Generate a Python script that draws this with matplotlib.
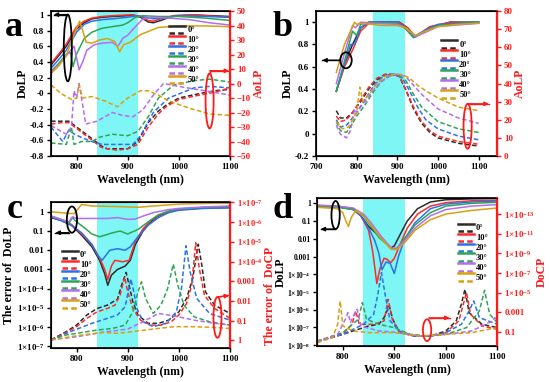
import numpy as np
import matplotlib.pyplot as plt
from matplotlib.lines import Line2D
from matplotlib.patches import Ellipse
from matplotlib.legend_handler import HandlerBase
from matplotlib.ticker import FixedLocator, FixedFormatter, NullLocator

plt.rcParams['font.family'] = ['Liberation Serif', 'DejaVu Serif']
plt.rcParams['font.weight'] = 'bold'
plt.rcParams['mathtext.fontset'] = 'custom'
plt.rcParams['mathtext.rm'] = 'Liberation Serif:bold'
plt.rcParams['mathtext.bf'] = 'Liberation Serif:bold'
plt.rcParams['mathtext.it'] = 'Liberation Serif:bold'

angles = ['0°', '10°', '20°', '30°', '40°', '50°']
colors = ['#2b2b2b', '#ff2a2a', '#2a72ea', '#2ea555', '#b46cf0', '#d9a010']

# ---- panel a: DoLP (solid) / AoLP in deg (dashed)
a_dolp_x = [
    [750, 765, 780, 800, 815, 830, 850, 870, 900, 910, 925, 940, 950, 965, 990, 1030, 1100],
    [750, 765, 780, 800, 815, 830, 850, 870, 900, 910, 925, 940, 950, 965, 990, 1030, 1100],
    [750, 765, 780, 800, 815, 830, 850, 870, 900, 920, 935, 950, 970, 1000, 1100],
    [750, 765, 780, 788, 793, 800, 815, 830, 850, 870, 890, 900, 915, 930, 960, 1000, 1050, 1100],
    [750, 765, 780, 795, 800, 805, 812, 820, 835, 850, 870, 880, 885, 890, 900, 915, 930, 950, 980, 1020, 1060, 1100],
    [750, 765, 780, 795, 806, 812, 819, 830, 845, 860, 875, 884, 892, 905, 925, 960, 1000, 1050, 1100],
]
a_dolp_y = [
    [0.36, 0.48, 0.6, 0.82, 0.9, 0.95, 0.97, 0.98, 0.99, 1.0, 0.97, 0.91, 0.9, 0.93, 0.99, 1.0, 0.98],
    [0.38, 0.5, 0.63, 0.85, 0.92, 0.96, 0.98, 0.99, 1.0, 1.0, 0.98, 0.93, 0.92, 0.95, 0.99, 1.0, 0.97],
    [0.32, 0.43, 0.55, 0.78, 0.88, 0.92, 0.94, 0.95, 0.97, 0.99, 0.97, 0.95, 0.96, 0.99, 0.97],
    [0.28, 0.38, 0.5, 0.52, 0.34, 0.5, 0.7, 0.78, 0.83, 0.85, 0.87, 0.9, 0.97, 0.99, 0.98, 0.98, 0.96, 0.93],
    [0.27, 0.36, 0.48, 0.6, 0.45, 0.3, 0.4, 0.55, 0.62, 0.64, 0.65, 0.6, 0.64, 0.7, 0.74, 0.85, 0.95, 0.97, 0.96, 0.94, 0.9, 0.87],
    [0.25, 0.35, 0.48, 0.75, 0.92, 0.8, 0.65, 0.64, 0.68, 0.7, 0.66, 0.53, 0.62, 0.65, 0.75, 0.84, 0.86, 0.86, 0.85],
]
a_aolp_x = [
    [750, 770, 785, 800, 815, 830, 848, 860, 880, 900, 920, 940, 960, 975, 1000, 1040, 1070, 1100],
    [750, 770, 785, 800, 815, 830, 848, 860, 880, 900, 920, 940, 960, 975, 1000, 1040, 1070, 1100],
    [750, 773, 785, 796, 815, 830, 850, 880, 910, 925, 950, 980, 1030, 1060, 1100],
    [750, 780, 790, 795, 810, 830, 845, 870, 900, 920, 940, 960, 990, 1030, 1060, 1100],
    [750, 780, 790, 795, 800, 805, 812, 818, 840, 870, 890, 910, 930, 950, 970, 1000, 1050, 1100],
    [750, 770, 790, 800, 805, 812, 830, 855, 880, 900, 925, 940, 960, 980, 1020, 1060, 1100],
]
a_aolp_y = [
    [-26, -26, -26, -30, -34, -38, -43, -45, -45, -45, -40, -27, -19, -15, -10, -7, -5, -4],
    [-28, -27, -27, -31, -35, -39, -44, -45, -46, -45, -42, -30, -21, -16, -11, -8, -6, -3],
    [-30, -40, -32, -35, -38, -40, -42, -42, -42, -36, -20, -10, -3, -2, -3],
    [-41, -42, -30, -42, -40, -40, -37, -35, -36, -33, -23, -10, -1, 2, 3, 1],
    [-29, -35, -30, -5, -10, 0, -15, -28, -26, -20, -22, -23, -18, -8, 0, -2, -5, -8],
    [-1, -7, -11, -10, -1, -10, -9, -12, -16, -10, -5, -5, -8, -12, -17, -21, -22],
]

# ---- panel b: DoLP (solid) / AoLP in deg (dashed)
b_dolp_x = [
    [750, 770, 790, 810, 830, 905, 925, 945, 980, 1030, 1100],
    [750, 770, 790, 810, 830, 850, 905, 925, 945, 980, 1030, 1100],
    [750, 770, 785, 795, 810, 830, 900, 920, 940, 970, 1000, 1100],
    [750, 770, 790, 800, 810, 830, 900, 920, 940, 970, 1000, 1100],
    [750, 770, 790, 797, 810, 840, 900, 920, 945, 970, 1000, 1100],
    [750, 770, 795, 800, 810, 840, 860, 900, 920, 945, 970, 1000, 1050, 1100],
]
b_dolp_y = [
    [0.38, 0.62, 0.8, 0.95, 1.0, 1.0, 0.95, 0.87, 0.95, 1.0, 1.0],
    [0.38, 0.6, 0.75, 0.92, 0.99, 1.0, 1.0, 0.95, 0.87, 0.96, 1.0, 0.99],
    [0.38, 0.62, 0.8, 0.8, 0.95, 1.0, 1.0, 0.95, 0.87, 0.93, 0.98, 1.0],
    [0.38, 0.65, 0.92, 0.88, 0.98, 1.0, 0.99, 0.94, 0.86, 0.92, 0.97, 1.0],
    [0.45, 0.72, 0.97, 0.95, 1.0, 0.99, 0.98, 0.95, 0.87, 0.91, 0.96, 0.99],
    [0.55, 0.8, 1.0, 0.98, 0.99, 0.98, 0.97, 0.97, 0.95, 0.88, 0.92, 0.96, 0.98, 0.99],
]
b_aolp_x = [
    [750, 760, 775, 790, 810, 830, 850, 870, 890, 905, 920, 940, 960, 980, 1000, 1050, 1100],
    [750, 760, 775, 790, 810, 830, 850, 870, 890, 905, 920, 940, 960, 980, 1000, 1050, 1100],
    [750, 760, 775, 790, 800, 820, 840, 860, 880, 900, 915, 930, 950, 970, 1000, 1050, 1100],
    [750, 760, 775, 790, 800, 820, 840, 860, 880, 900, 920, 940, 960, 1000, 1050, 1100],
    [750, 760, 775, 785, 795, 800, 820, 840, 860, 880, 900, 920, 940, 960, 1000, 1050, 1100],
    [750, 765, 780, 800, 808, 815, 830, 850, 870, 890, 910, 930, 950, 970, 1000, 1050, 1100],
]
b_aolp_y = [
    [25, 21, 21, 24, 30, 37, 42, 45, 45, 44, 37, 26, 18, 13, 10, 7, 5.5],
    [22, 19, 20, 24, 31, 38, 43, 45, 45, 44, 37, 27, 19, 14, 11, 8, 6.5],
    [20, 16, 17, 21, 24, 31, 38, 43, 45, 45, 42, 36, 27, 20, 15, 11, 9],
    [19, 14, 13, 18, 22, 28, 35, 41, 44, 45, 42, 34, 27, 19, 15, 13],
    [17, 12, 10, 14, 26, 24, 30, 36, 41, 44, 45, 44, 39, 34, 26, 21, 18],
    [19, 15, 16, 24, 38, 30, 34, 40, 44, 45, 45, 43, 39, 36, 32, 27, 25],
]

# ---- panel c: error of DoLP (solid) and log10 of error of DoCP (dashed)
c_dolp_x = [
    [750, 770, 790, 810, 830, 845, 855, 861, 868, 880, 895, 905, 915, 930, 945, 960, 980, 1000, 1050, 1100],
    [750, 770, 790, 810, 830, 845, 855, 861, 868, 875, 890, 903, 915, 930, 945, 960, 980, 1000, 1050, 1100],
    [750, 770, 790, 810, 830, 842, 850, 865, 880, 895, 905, 920, 940, 960, 980, 1000, 1050, 1100],
    [750, 770, 785, 792, 800, 815, 830, 845, 870, 885, 900, 920, 940, 960, 980, 1000, 1050, 1100],
    [750, 770, 785, 792, 800, 830, 860, 880, 900, 915, 930, 950, 980, 1000, 1050, 1100],
    [750, 780, 795, 810, 830, 870, 900, 920, 950, 1000, 1050, 1100],
]
c_dolp_y = [
    [0.5, 0.35, 0.2, 0.06, 0.015, 0.003, 6e-4, 1.5e-4, 5e-4, 1e-3, 1.5e-3, 3e-3, 0.02, 0.1, 0.3, 0.6, 1.0, 1.3, 1.6, 1.7],
    [0.55, 0.38, 0.22, 0.07, 0.02, 0.004, 0.001, 3e-4, 1.5e-3, 3e-3, 2.5e-3, 3e-3, 0.03, 0.13, 0.35, 0.65, 1.0, 1.3, 1.6, 1.7],
    [0.55, 0.35, 0.2, 0.08, 0.02, 0.005, 0.003, 0.01, 0.012, 0.01, 0.015, 0.05, 0.2, 0.5, 0.9, 1.2, 1.5, 1.6],
    [0.6, 0.4, 0.25, 0.5, 0.3, 0.15, 0.07, 0.05, 0.08, 0.1, 0.07, 0.12, 0.3, 0.7, 1.1, 1.4, 1.7, 1.9],
    [0.6, 0.4, 0.3, 0.55, 0.45, 0.45, 0.45, 0.5, 0.4, 0.42, 0.6, 0.9, 1.3, 1.5, 1.8, 2.0],
    [1.0, 0.85, 0.8, 2.4, 2.0, 1.9, 1.8, 1.7, 2.0, 2.5, 2.7, 2.8],
]
c_docp_x = [
    [750, 780, 800, 820, 840, 860, 880, 888, 897, 902, 910, 920, 940, 960, 980, 1000, 1015, 1027, 1038, 1045, 1052, 1070, 1100],
    [750, 780, 800, 820, 840, 860, 875, 885, 894, 900, 910, 925, 945, 965, 985, 1000, 1015, 1025, 1033, 1040, 1050, 1070, 1100],
    [750, 780, 800, 830, 860, 880, 895, 906, 912, 918, 930, 950, 975, 995, 1005, 1014, 1022, 1035, 1060, 1100],
    [750, 780, 800, 840, 870, 895, 910, 920, 927, 935, 950, 965, 978, 989, 998, 1010, 1030, 1060, 1100],
    [750, 800, 850, 900, 930, 960, 990, 1030, 1070, 1100],
    [750, 800, 850, 880, 910, 950, 990, 1030, 1070, 1100],
]
c_docp_log = [
    [-0.03, -0.45, -0.78, -1.29, -1.62, -1.79, -2.09, -2.8, -3.45, -2.88, -1.96, -1.29, -0.87, -0.87, -1.03, -1.45, -2.13, -3.13, -4.88, -3.8, -2.46, -1.79, -1.37],
    [-0.03, -0.41, -0.7, -1.12, -1.45, -1.62, -1.79, -2.29, -3.22, -2.46, -1.62, -1.03, -0.78, -0.78, -0.95, -1.29, -1.87, -2.8, -4.95, -3.64, -2.29, -1.62, -1.12],
    [-0.03, -0.36, -0.57, -0.87, -1.12, -1.29, -1.71, -3.12, -2.46, -1.62, -0.95, -0.7, -0.87, -1.45, -2.63, -4.8, -3.47, -2.13, -1.37, -1.03],
    [-0.03, -0.28, -0.36, -0.53, -0.61, -0.78, -1.45, -2.46, -2.97, -2.13, -1.37, -1.79, -2.63, -3.87, -2.8, -1.79, -1.2, -0.95, -0.78],
    [-0.03, -0.19, -0.41, -0.58, -0.95, -1.37, -1.25, -1.03, -0.87, -0.78],
    [-0.03, -0.24, -0.41, -0.36, -0.45, -0.58, -0.7, -0.7, -0.66, -0.61],
]

# ---- panel d: DoLP (solid) and log10 of DoCP (dashed)
d_dolp_x = [
    [750, 790, 820, 835, 850, 865, 880, 893, 900, 910, 925, 945, 970, 1000, 1050, 1100],
    [750, 790, 820, 835, 850, 858, 866, 872, 880, 886, 893, 900, 910, 925, 945, 970, 1000, 1050, 1100],
    [750, 790, 820, 835, 850, 862, 870, 876, 884, 892, 900, 908, 920, 940, 970, 1000, 1050, 1100],
    [750, 790, 820, 840, 855, 870, 885, 895, 905, 920, 940, 970, 1000, 1050, 1100],
    [750, 790, 820, 840, 855, 870, 885, 895, 905, 920, 940, 970, 1000, 1050, 1100],
    [750, 790, 800, 806, 811, 816, 825, 840, 855, 870, 885, 895, 905, 920, 940, 970, 1000, 1050, 1100],
]
d_dolp_y = [
    [0.75, 0.7, 0.5, 0.2, 0.05, 0.02, 0.008, 0.003, 0.004, 0.015, 0.1, 0.5, 1.2, 1.6, 1.8, 1.9],
    [0.7, 0.65, 0.45, 0.2, 0.03, 0.002, 3e-5, 2e-4, 8e-4, 7e-4, 4.5e-4, 8e-4, 0.004, 0.04, 0.25, 0.7, 1.1, 1.4, 1.5],
    [0.7, 0.65, 0.45, 0.2, 0.04, 0.008, 0.0015, 1.8e-4, 5e-4, 4e-4, 1.1e-4, 0.001, 0.01, 0.08, 0.5, 0.9, 1.2, 1.35],
    [0.65, 0.6, 0.45, 0.2, 0.05, 0.012, 0.005, 0.0025, 0.003, 0.01, 0.06, 0.3, 0.7, 1.0, 1.15],
    [0.8, 0.7, 0.55, 0.25, 0.08, 0.02, 0.006, 0.003, 0.003, 0.008, 0.04, 0.2, 0.45, 0.7, 0.85],
    [0.6, 0.5, 0.3, 0.1, 0.05, 0.15, 0.4, 0.2, 0.06, 0.015, 0.005, 0.0025, 0.0025, 0.006, 0.03, 0.12, 0.25, 0.4, 0.55],
]
d_docp_x = [
    [750, 800, 830, 850, 870, 880, 890, 897, 910, 940, 970, 1000, 1020, 1030, 1037, 1045, 1070, 1100],
    [750, 800, 818, 825, 832, 860, 880, 888, 896, 910, 940, 970, 1000, 1025, 1040, 1048, 1070, 1100],
    [750, 800, 840, 860, 868, 875, 882, 892, 910, 940, 970, 1000, 1030, 1045, 1054, 1065, 1100],
    [750, 800, 830, 838, 846, 870, 900, 930, 970, 1000, 1040, 1065, 1075, 1085, 1100],
    [750, 790, 805, 810, 815, 822, 828, 835, 870, 910, 950, 1000, 1050, 1090, 1095, 1100],
    [750, 780, 790, 795, 800, 820, 850, 900, 950, 1000, 1050, 1100],
]
d_docp_log = [
    [-0.07, -0.76, -1.27, -1.61, -1.78, -2.46, -3.65, -2.29, -0.93, -0.58, -0.58, -1.1, -2.12, -3.82, -5.35, -2.97, -1.78, -1.44],
    [-0.01, -0.76, -1.78, -3.14, -1.78, -1.78, -2.12, -4.33, -2.29, -0.93, -0.58, -0.58, -0.93, -2.12, -5.01, -2.8, -1.61, -1.27],
    [-0.01, -0.76, -1.78, -2.8, -4.84, -7.05, -4.84, -2.12, -1.1, -0.58, -0.58, -0.93, -1.78, -3.14, -4.16, -2.46, -1.78],
    [-0.07, -0.93, -2.29, -3.99, -2.29, -1.78, -1.44, -0.76, -0.58, -0.76, -1.44, -3.14, -5.24, -2.8, -1.95],
    [-0.01, -0.76, -2.29, -2.97, -1.95, -2.8, -3.31, -1.61, -1.1, -0.93, -0.58, -0.76, -1.1, -2.12, -2.46, -1.95],
    [0.1, -0.41, -1.78, -4.16, -1.61, -1.1, -0.93, -0.93, -0.58, -0.76, -0.93, -1.44],
]

band = (840, 920)
cyan = '#7ff6f6'
red = '#ff1a1a'
TICK = 6.5
LAB = 8.5


class TwoLineHandler(HandlerBase):
    # solid line on top, dashed line under it, as in the figure legends
    def create_artists(self, legend, orig_handle, xdescent, ydescent,
                       width, height, fontsize, trans):
        solid, dashed = orig_handle
        x = [-xdescent, -xdescent + width]
        top = Line2D(x, [height * 0.95 - ydescent] * 2, color=solid.get_color(),
                     lw=1.8, transform=trans)
        bot = Line2D(x, [height * 0.05 - ydescent] * 2, color=dashed.get_color(),
                     lw=1.8, ls=(0, (2.2, 1.3)), transform=trans)
        return [top, bot]


def log_label(v):
    e = int(round(np.log10(v)))
    if e >= -3:
        return '%g' % v
    return r'1$\times$10$^{%d}$' % e


def setup(ax, ax2, xlim, xticks):
    ax.set_xlim(*xlim)
    ax.set_xticks(xticks)
    ax.axvspan(*band, color=cyan, zorder=0, lw=0)
    ax.tick_params(labelsize=TICK, length=3, width=1, direction='out', pad=2)
    ax2.tick_params(labelsize=TICK, length=3, width=1, colors=red, direction='out', pad=2)
    for s in ['left', 'bottom', 'top']:
        ax.spines[s].set_linewidth(1.2)
    ax2.spines['right'].set_color(red)
    ax2.spines['right'].set_linewidth(1.6)
    ax.set_xlabel('Wavelength (nm)', fontsize=LAB, fontweight='bold', labelpad=2)


def legend(ax2, loc_anchor, handles):
    leg = ax2.legend(handles=handles, labels=angles, handler_map={tuple: TwoLineHandler()},
                     loc='upper left', bbox_to_anchor=loc_anchor, frameon=False,
                     fontsize=6, handlelength=1.9, handleheight=1.15, labelspacing=0.12,
                     handletextpad=0.3, borderaxespad=0, borderpad=0)
    for t in leg.get_texts():
        t.set_fontweight('bold')


def ellipse(ax, cx, cy, w, h, color):
    ax.add_patch(Ellipse((cx, cy), w, h, transform=ax.transAxes, fill=False,
                         ec=color, lw=1.3, zorder=10, clip_on=False))


def arrow(ax, pts, color):
    xs = [p[0] for p in pts]
    ys = [p[1] for p in pts]
    ax.plot(xs, ys, color=color, lw=1.0, transform=ax.transAxes, zorder=10, clip_on=False)
    ax.annotate('', xy=pts[-1], xytext=pts[-2], xycoords='axes fraction',
                arrowprops=dict(arrowstyle='-|>', color=color, lw=1.0,
                                mutation_scale=6, shrinkA=0, shrinkB=0), zorder=11)


def panel_letter(fig, x, y, s):
    fig.text(x, y, s, fontsize=26, fontweight='bold', ha='left', va='baseline')


fig = plt.figure(figsize=(5.5, 3.82), dpi=100)
dash = (0, (3, 1.6))

# ---------- a
ax = fig.add_axes([0.0927, 0.5916, 0.3255, 0.3796])
ax2 = ax.twinx()
handles = []
for i in range(6):
    l1, = ax.plot(a_dolp_x[i], a_dolp_y[i], color=colors[i], lw=1.1)
    l2, = ax2.plot(a_aolp_x[i], a_aolp_y[i], color=colors[i], lw=1.1, ls=dash)
    handles.append((l1, l2))
setup(ax, ax2, (750, 1100), [800, 900, 1000, 1100])
ax.set_ylim(-0.8, 1.05)
ax.set_yticks(np.arange(-0.8, 1.01, 0.2))
ax.set_yticklabels(['%g' % round(v, 1) for v in np.arange(-0.8, 1.01, 0.2)])
ax2.set_ylim(-50, 50)
ax2.set_yticks(range(-50, 51, 10))
ax.set_ylabel('DoLP', fontsize=LAB, fontweight='bold', labelpad=1)
ax2.set_ylabel('AoLP', fontsize=LAB, fontweight='bold', color=red, labelpad=1)
legend(ax2, (0.66, 0.9), handles)
ellipse(ax2, 0.094, 0.745, 0.045, 0.46, 'black')
arrow(ax2, [(0.094, 0.975), (0.015, 0.975)], 'black')
ellipse(ax2, 0.886, 0.38, 0.045, 0.38, red)
arrow(ax2, [(0.886, 0.57), (0.886, 0.588), (0.995, 0.588)], red)

# ---------- b
ax = fig.add_axes([0.5745, 0.5916, 0.329, 0.3796])
ax2 = ax.twinx()
handles = []
for i in range(6):
    l1, = ax.plot(b_dolp_x[i], b_dolp_y[i], color=colors[i], lw=1.1)
    l2, = ax2.plot(b_aolp_x[i], b_aolp_y[i], color=colors[i], lw=1.1, ls=dash)
    handles.append((l1, l2))
setup(ax, ax2, (700, 1145), [700, 800, 900, 1000, 1100])
ax.set_ylim(-0.2, 1.1)
ax.set_yticks(np.arange(-0.2, 1.01, 0.2))
ax.set_yticklabels(['%g' % round(v, 1) for v in np.arange(-0.2, 1.01, 0.2)])
ax2.set_ylim(0, 80)
ax2.set_yticks(range(0, 81, 10))
ax.set_ylabel('DoLP', fontsize=LAB, fontweight='bold', labelpad=1)
ax2.set_ylabel('AoLP', fontsize=LAB, fontweight='bold', color=red, labelpad=1)
legend(ax2, (0.69, 0.8), handles)
ellipse(ax2, 0.166, 0.66, 0.063, 0.11, 'black')
arrow(ax2, [(0.134, 0.66), (0.035, 0.66)], 'black')
ellipse(ax2, 0.838, 0.205, 0.045, 0.31, red)
arrow(ax2, [(0.838, 0.36), (0.955, 0.36)], red)

# ---------- c
ax = fig.add_axes([0.0927, 0.089, 0.3255, 0.382])
ax2 = ax.twinx()
handles = []
for i in range(6):
    l1, = ax.plot(c_dolp_x[i], c_dolp_y[i], color=colors[i], lw=1.1)
    l2, = ax2.plot(c_docp_x[i], 10 ** np.array(c_docp_log[i]), color=colors[i], lw=1.1, ls=dash)
    handles.append((l1, l2))
setup(ax, ax2, (750, 1100), [800, 900, 1000, 1100])
ax.set_yscale('log')
ax.set_ylim(8.2e-8, 3.2)
lt = [1e-7, 1e-6, 1e-5, 1e-4, 1e-3, 1e-2, 0.1, 1]
ax.yaxis.set_major_locator(FixedLocator(lt))
ax.yaxis.set_major_formatter(FixedFormatter([log_label(v) for v in lt]))
ax.yaxis.set_minor_locator(NullLocator())
ax2.set_yscale('log')
ax2.set_ylim(2.4, 0.97e-7)
ax2.yaxis.set_major_locator(FixedLocator(lt))
ax2.yaxis.set_major_formatter(FixedFormatter([log_label(v) for v in lt]))
ax2.yaxis.set_minor_locator(NullLocator())
ax2.tick_params(axis='y', labelsize=6)
ax.set_ylabel('The error of  DoLP', fontsize=LAB, fontweight='bold', labelpad=1)
ax2.set_ylabel('The error of  DoCP', fontsize=LAB, fontweight='bold', color=red, labelpad=0)
ax2.yaxis.set_label_coords(1.19, 0.36)
legend(ax2, (0.06, 0.67), handles)
ellipse(ax2, 0.117, 0.88, 0.057, 0.18, 'black')
arrow(ax2, [(0.1, 0.79), (0.025, 0.79)], 'black')
ellipse(ax2, 0.93, 0.21, 0.045, 0.28, red)
arrow(ax2, [(0.935, 0.35), (0.995, 0.36)], red)

# ---------- d
ax = fig.add_axes([0.5764, 0.0942, 0.328, 0.3874])
ax2 = ax.twinx()
handles = []
for i in range(6):
    l1, = ax.plot(d_dolp_x[i], d_dolp_y[i], color=colors[i], lw=1.1)
    l2, = ax2.plot(d_docp_x[i], 10 ** np.array(d_docp_log[i]), color=colors[i], lw=1.1, ls=dash)
    handles.append((l1, l2))
setup(ax, ax2, (750, 1100), [800, 900, 1000, 1100])
ax.set_yscale('log')
ax.set_ylim(9e-9, 2.0)
lt = [1e-8, 1e-7, 1e-6, 1e-5, 1e-4, 1e-3, 1e-2, 0.1, 1]
ax.yaxis.set_major_locator(FixedLocator(lt))
ax.yaxis.set_major_formatter(FixedFormatter([log_label(v) for v in lt]))
ax.yaxis.set_minor_locator(NullLocator())
ax.tick_params(axis='y', labelsize=5.5, pad=1.5)
ax2.set_yscale('log')
ax2.set_ylim(2.7, 2.3e-15)
rt = [1e-13, 1e-11, 1e-9, 1e-7, 1e-5, 1e-3, 0.1]
ax2.yaxis.set_major_locator(FixedLocator(rt))
ax2.yaxis.set_major_formatter(FixedFormatter([log_label(v) for v in rt]))
ax2.yaxis.set_minor_locator(NullLocator())
ax.set_ylabel('DoLP', fontsize=LAB, fontweight='bold', labelpad=1)
ax.yaxis.set_label_coords(-0.168, 0.5)
ax2.set_ylabel('DoCP', fontsize=LAB, fontweight='bold', color=red, labelpad=1)
legend(ax2, (0.78, 0.83), handles)
ellipse(ax2, 0.103, 0.885, 0.046, 0.19, 'black')
arrow(ax2, [(0.1, 0.79), (0.02, 0.79)], 'black')
ellipse(ax2, 0.61, 0.107, 0.046, 0.147, red)
arrow(ax2, [(0.62, 0.19), (0.735, 0.19)], red)

panel_letter(fig, 0.008, 0.905, 'a')
panel_letter(fig, 0.495, 0.905, 'b')
panel_letter(fig, 0.012, 0.43, 'c')
panel_letter(fig, 0.495, 0.43, 'd')

fig.savefig('out.png', dpi=100)
